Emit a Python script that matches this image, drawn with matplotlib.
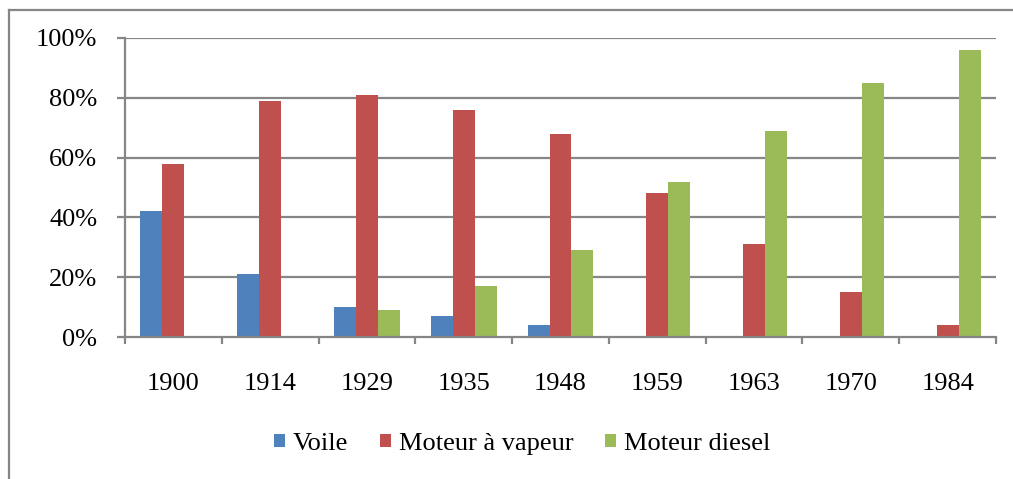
import matplotlib
matplotlib.use("Agg")
import matplotlib.pyplot as plt
from matplotlib.lines import Line2D
from matplotlib.ticker import FuncFormatter, FixedLocator
import numpy as np

years = ["1900", "1914", "1929", "1935", "1948", "1959", "1963", "1970", "1984"]
voile = [42, 21, 10, 7, 4, 0, 0, 0, 0]
vapeur = [58, 79, 81, 76, 68, 48, 31, 15, 4]
diesel = [0, 0, 9, 17, 29, 52, 69, 85, 96]
series_names = ["Voile", "Moteur à vapeur", "Moteur diesel"]
colors = ["#4F81BD", "#C0504D", "#9BBB59"]
yticks = [0, 20, 40, 60, 80, 100]

plt.rcParams['font.family'] = ['Liberation Serif', 'DejaVu Serif']

W, H = 1013, 479
fig = plt.figure(figsize=(W / 100, H / 100), dpi=100)
ax = fig.add_axes([125 / W, 1 - 337 / H, (996 - 125) / W, (337 - 38) / H])

x = np.arange(len(years))
bw = 0.227
for i, (vals, name, c) in enumerate(zip([voile, vapeur, diesel], series_names, colors)):
    ax.bar(x + (i - 1) * bw, vals, width=bw, color=c, label=name, zorder=3)

grid_c = "#868686"
lw = 1.6
fs = 19
ax.set_xlim(-0.5, len(years) - 0.5)
ax.set_ylim(0, 100)
ax.set_yticks(yticks)
ax.yaxis.set_major_formatter(FuncFormatter(lambda v, p: f"{int(v)}%"))
for v in yticks[1:]:
    ax.axhline(v, color=grid_c, lw=lw, zorder=1)

ax.set_xticks(x)
ax.set_xticklabels(years)
ax.xaxis.set_minor_locator(FixedLocator(np.arange(-0.5, len(years), 1.0)))
ax.tick_params(axis='x', which='major', length=0, pad=26, labelsize=fs, colors='black')
ax.tick_params(axis='x', which='minor', length=5, width=lw, color=grid_c)
ax.tick_params(axis='y', which='major', length=6, width=lw, color=grid_c, pad=14, labelsize=fs)

for s in ['top', 'right']:
    ax.spines[s].set_visible(False)
for s in ['left', 'bottom']:
    ax.spines[s].set_color(grid_c)
    ax.spines[s].set_linewidth(lw)
    ax.spines[s].set_zorder(4)

leg = fig.legend(loc='center', bbox_to_anchor=(522 / W, 1 - 444 / H), ncol=3, frameon=False,
                 fontsize=fs, handlelength=0.42, handleheight=0.42, handletextpad=0.3,
                 columnspacing=1.2, borderaxespad=0)

# outer chart border
fig.add_artist(Line2D([9 / W, 9 / W], [0, 1 - 10 / H], transform=fig.transFigure, color=grid_c, lw=lw))
fig.add_artist(Line2D([9 / W, 1], [1 - 10 / H, 1 - 10 / H], transform=fig.transFigure, color=grid_c, lw=lw))

fig.savefig("out.png", dpi=100)
